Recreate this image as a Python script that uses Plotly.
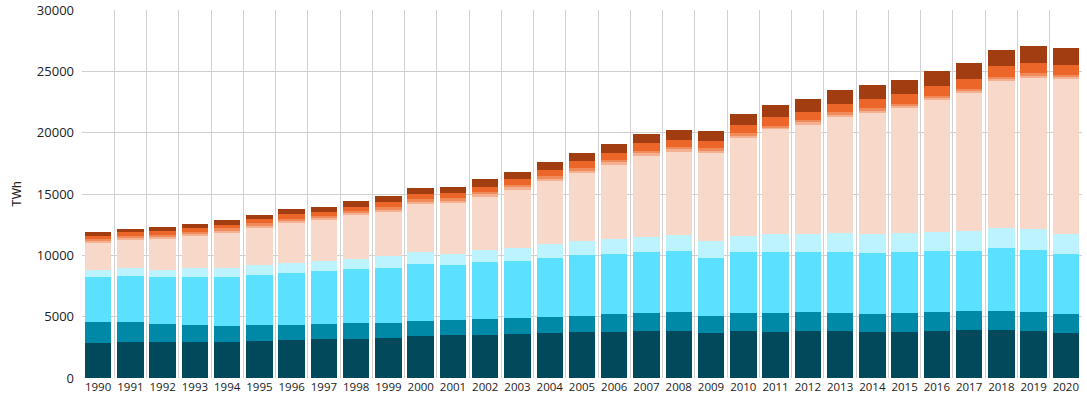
import plotly.graph_objects as go

years = [str(y) for y in range(1990, 2021)]

dark_teal = [2870, 2930, 2900, 2900, 2950, 3030, 3120, 3170, 3210, 3280, 3390, 3470, 3520, 3600, 3680, 3740,
             3770, 3850, 3850, 3680, 3820, 3770, 3820, 3800, 3720, 3770, 3820, 3880, 3880, 3820, 3680]
teal = [1660, 1620, 1520, 1460, 1300, 1280, 1220, 1220, 1260, 1220, 1270, 1270, 1280, 1310, 1330, 1350,
        1460, 1430, 1520, 1380, 1460, 1510, 1550, 1510, 1510, 1540, 1550, 1570, 1590, 1600, 1550]
light_blue = [3680, 3740, 3790, 3880, 3990, 4120, 4250, 4310, 4390, 4470, 4630, 4450, 4630, 4650, 4770, 4910,
              4880, 4960, 4950, 4740, 4960, 4990, 4900, 4960, 4990, 4960, 4980, 4900, 5100, 5040, 4910]
pale_cyan = [590, 650, 630, 730, 760, 760, 820, 810, 810, 950, 980, 940, 1000, 1060, 1110, 1160,
             1220, 1280, 1330, 1340, 1300, 1440, 1490, 1540, 1540, 1570, 1570, 1600, 1630, 1650, 1620]
peach = [2280, 2360, 2570, 2680, 2890, 3110, 3270, 3420, 3660, 3680, 3960, 4180, 4390, 4770, 5180, 5590,
         6090, 6640, 6830, 7230, 8050, 8590, 8920, 9520, 9890, 10220, 10760, 11330, 12030, 12390, 12630]
pale_orange = [100, 115, 115, 120, 125, 125, 125, 125, 120, 130, 135, 135, 140, 145, 150, 155,
               160, 160, 160, 160, 170, 105, 160, 135, 135, 125, 145, 125, 135, 150, 135]
light_orange = [150, 165, 160, 170, 175, 175, 180, 175, 175, 190, 195, 195, 200, 205, 210, 215,
                220, 220, 220, 220, 230, 160, 220, 190, 190, 175, 205, 175, 190, 210, 190]
orange = [270, 290, 290, 305, 320, 330, 345, 340, 345, 390, 410, 420, 450, 470, 500, 530,
          550, 580, 580, 580, 630, 675, 650, 710, 760, 760, 765, 815, 840, 840, 840]
brown = [270, 300, 305, 335, 360, 380, 410, 410, 420, 490, 530, 550, 590, 620, 660, 700,
         730, 740, 800, 830, 920, 1010, 1050, 1110, 1140, 1195, 1220, 1325, 1330, 1325, 1330]

series = [
    ("s1", dark_teal, "#024a5b"),
    ("s2", teal, "#0088a7"),
    ("s3", light_blue, "#5ce0ff"),
    ("s4", pale_cyan, "#bcf3ff"),
    ("s5", peach, "#f8d8c9"),
    ("s6", pale_orange, "#f4b090"),
    ("s7", light_orange, "#f08c5c"),
    ("s8", orange, "#ec6629"),
    ("s9", brown, "#a13d10"),
]

fig = go.Figure()
for name, vals, col in series:
    fig.add_trace(go.Bar(x=years, y=vals, name=name, marker=dict(color=col, line=dict(width=0))))

fig.update_layout(
    width=1087, height=405,
    barmode="stack", bargap=0.18,
    showlegend=False,
    plot_bgcolor="white", paper_bgcolor="white",
    margin=dict(l=82, r=5, t=10, b=27, autoexpand=False),
    font=dict(family="Open Sans", size=13, color="#222"),
    xaxis=dict(showgrid=True, gridcolor="#d0d0d0", gridwidth=1, tickson="boundaries",
               ticks="", tickangle=0, tickfont=dict(size=11.5, color="#222"), showline=False, zeroline=False,
               range=[-0.5, 30.5], automargin=False),
    yaxis=dict(range=[0, 30000], dtick=5000, tickformat="d", showgrid=True, gridcolor="#d0d0d0", gridwidth=1,
               zeroline=False, showline=False, ticks="", tickfont=dict(size=13, color="#222"),
               automargin=False, ticklabelstandoff=7, ticklabeloverflow="allow",
               title=dict(text="TWh", font=dict(family="Liberation Sans", size=12, color="#222"), standoff=12)),
)

fig.write_html("out.html", config={"displayModeBar": False},
               post_script="document.body.style.margin='0';document.body.style.overflow='hidden';")
